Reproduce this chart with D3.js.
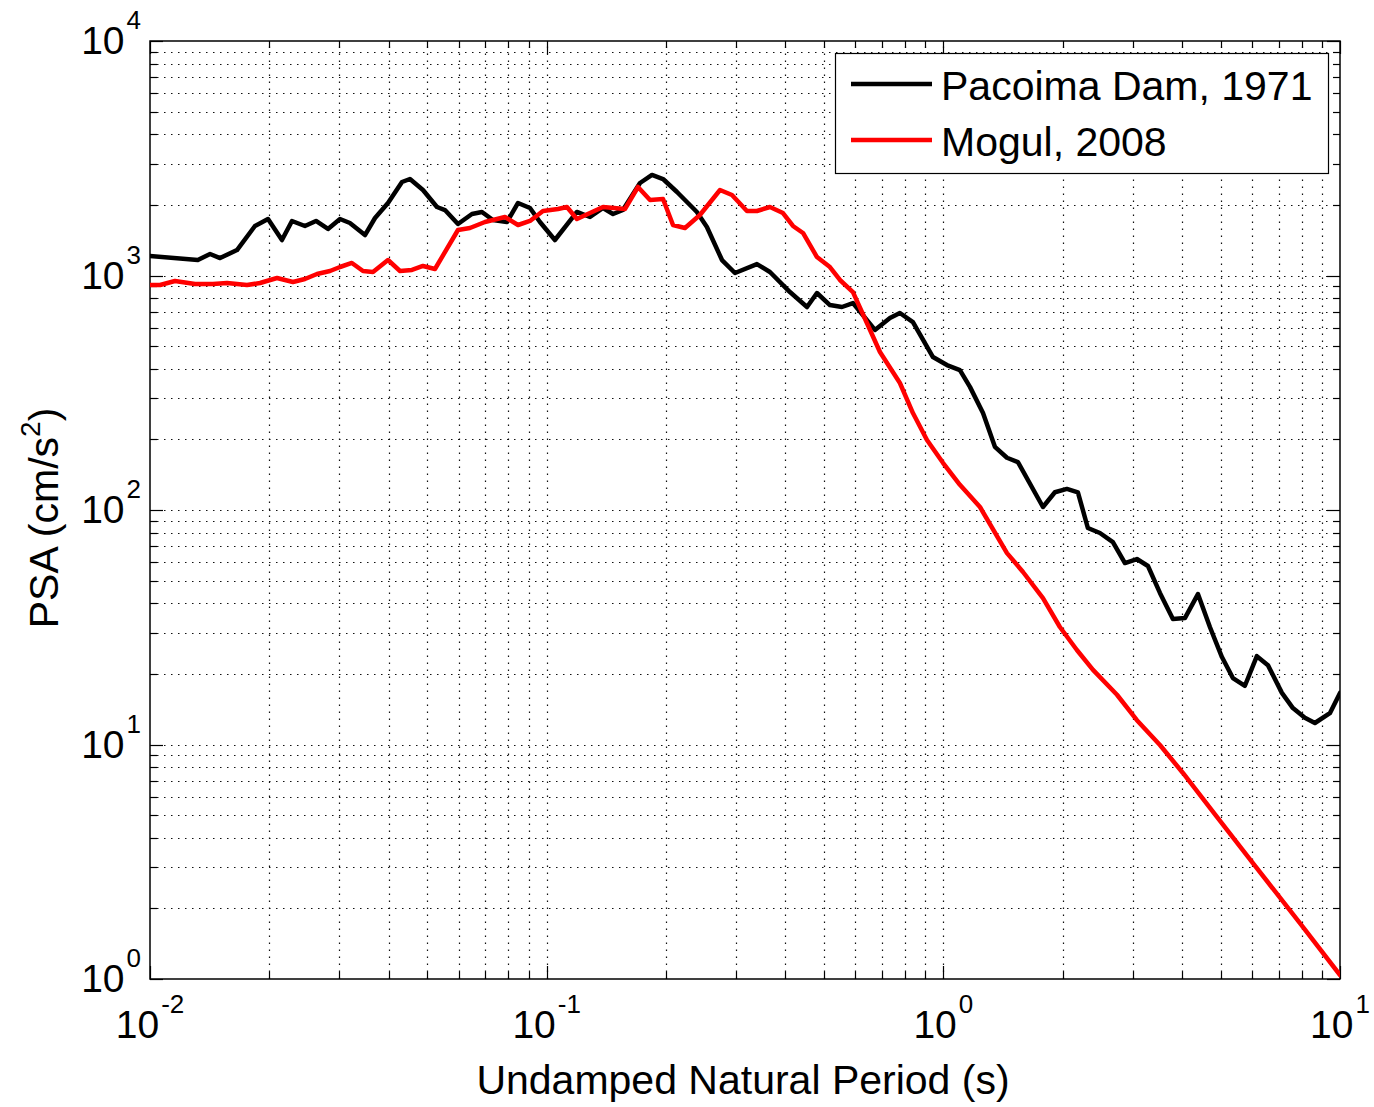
<!DOCTYPE html>
<html>
<head>
<meta charset="utf-8">
<script src="https://cdn.jsdelivr.net/npm/d3@7"></script>
<style>
  body { margin: 0; background: #fff; }
  svg text { font-family: "Liberation Sans", Arial, Helvetica, sans-serif; fill: #000; }
</style>
</head>
<body>
<div id="chart"></div>
<script>
//****data****
const pacoimaPeriod = [0.0100, 0.0132, 0.01417, 0.01502, 0.01657, 0.01839, 0.01984, 0.02151, 0.02280, 0.02458,
  0.02621, 0.02810, 0.03013, 0.03191, 0.03483, 0.03692, 0.03981, 0.04318, 0.04522, 0.04877,
  0.05290, 0.05541, 0.05976, 0.06481, 0.06868, 0.07320, 0.07942, 0.08468, 0.09077, 0.09618,
  0.1049, 0.1192, 0.1286, 0.1387, 0.1470, 0.1557, 0.1719, 0.1843, 0.1965, 0.2131,
  0.2392, 0.2535, 0.2767, 0.2984, 0.3389, 0.3655, 0.4105, 0.4532, 0.4802, 0.5177,
  0.5551, 0.5918, 0.6723, 0.7335, 0.7772, 0.8382, 0.9415, 1.021, 1.101, 1.167,
  1.259, 1.349, 1.447, 1.542, 1.783, 1.911, 2.049, 2.184, 2.314, 2.482,
  2.676, 2.870, 3.076, 3.280, 3.516, 3.791, 4.064, 4.384, 4.699, 5.039,
  5.370, 5.758, 6.172, 6.581, 7.137, 7.608, 8.155, 8.643, 9.430, 10.0];
const pacoimaPSA = [1211, 1164, 1235, 1187, 1284, 1626, 1741, 1417, 1708, 1626,
  1708, 1579, 1741, 1675, 1488, 1759, 2038, 2504, 2579, 2315,
  1959, 1902, 1658, 1829, 1866, 1725, 1691, 2038, 1940, 1691,
  1417, 1866, 1776, 1940, 1829, 1902, 2480, 2683, 2579, 2270,
  1866, 1610, 1164, 1025, 1119, 1035, 850, 734, 842, 748,
  734, 763, 586, 659, 692, 633, 449, 415, 395, 335,
  259, 186, 167, 160, 103, 119, 123, 119, 83.8, 79.8,
  73.0, 59.4, 61.8, 57.7, 44.3, 34.3, 34.6, 43.8, 31.7, 23.6,
  19.2, 17.8, 23.8, 21.8, 16.6, 14.3, 13.0, 12.35, 13.6, 16.6];

const mogulPeriod = [0.0100, 0.01060, 0.01156, 0.01299, 0.01441, 0.01564, 0.01756, 0.01894, 0.02090, 0.02293,
  0.02458, 0.02636, 0.02843, 0.03013, 0.03228, 0.03443, 0.03649, 0.03981, 0.04268, 0.04575,
  0.04877, 0.05229, 0.05976, 0.06406, 0.06989, 0.07850, 0.08468, 0.09077, 0.09788, 0.1068,
  0.1125, 0.1192, 0.1387, 0.1575, 0.1699, 0.1822, 0.1965, 0.2082, 0.2232, 0.2434,
  0.2735, 0.2932, 0.3198, 0.3389, 0.3655, 0.3942, 0.4178, 0.4428, 0.4802, 0.5177,
  0.5487, 0.5918, 0.6417, 0.6922, 0.7772, 0.8382, 0.9094, 0.9977, 1.101, 1.237,
  1.447, 1.588, 1.783, 1.967, 2.171, 2.384, 2.740, 3.076, 3.516, 4.018,
  4.895, 6.032, 7.925, 10.0];
const mogulPSA = [911, 911, 947, 920, 920, 929, 911, 929, 976, 938,
  966, 1015, 1045, 1087, 1131, 1045, 1035, 1164, 1045, 1056,
  1098, 1066, 1563, 1594, 1691, 1776, 1642, 1708, 1884, 1921,
  1959, 1741, 1959, 1921, 2385, 2099, 2120, 1642, 1594, 1811,
  2315, 2204, 1884, 1884, 1959, 1847, 1626, 1518, 1199, 1087,
  957, 850, 627, 472, 348, 259, 199, 159, 128, 103,
  65.5, 54.4, 42.1, 31.7, 25.3, 20.8, 16.3, 12.7, 9.95, 7.56,
  4.91, 3.12, 1.73, 1.04];

const seriesNames = ["Pacoima Dam, 1971", "Mogul, 2008"];
const seriesColors = ["#000000", "#ff0000"];
const xDomain = [0.01, 10];
const yDomain = [1, 10000];

//****layout****
const width = 1374;
const height = 1107;
const margin = {left: 150, right: 34, top: 41, bottom: 128};
const plotW = width - margin.left - margin.right;
const plotH = height - margin.top - margin.bottom;
const fontSize = 41;
const tickFont = 39;
const supSize = 26;

const svg = d3.select("#chart")
    .append("svg")
    .attr("width", width)
    .attr("height", height);

svg.append("rect")
    .attr("width", width)
    .attr("height", height)
    .attr("fill", "#fff");

const x = d3.scaleLog().domain(xDomain).range([margin.left, margin.left + plotW]);
const y = d3.scaleLog().domain(yDomain).range([margin.top + plotH, margin.top]);

const x0 = margin.left, x1 = margin.left + plotW;
const y0 = margin.top + plotH, y1 = margin.top;

const isMajor = v => Math.abs(Math.log10(v) - Math.round(Math.log10(v))) < 1e-9;
const xTicks = x.ticks();
const yTicks = y.ticks();

// dotted grid, minor and major
const grid = svg.append("g")
    .attr("stroke", "#111")
    .attr("stroke-width", 1.2)
    .attr("stroke-dasharray", "1.5,5.5")
    .attr("fill", "none");

grid.selectAll("line.gx")
    .data(xTicks.filter(v => v > xDomain[0] && v < xDomain[1]))
    .join("line")
    .attr("class", "gx")
    .attr("x1", d => Math.round(x(d)) + 0.5)
    .attr("x2", d => Math.round(x(d)) + 0.5)
    .attr("y1", y0)
    .attr("y2", y1);

grid.selectAll("line.gy")
    .data(yTicks.filter(v => v > yDomain[0] && v < yDomain[1]))
    .join("line")
    .attr("class", "gy")
    .attr("x1", x0)
    .attr("x2", x1)
    .attr("y1", d => Math.round(y(d)) + 0.5)
    .attr("y2", d => Math.round(y(d)) + 0.5);

// tick marks on all four sides, pointing inward
const ticks = svg.append("g").attr("stroke", "#000").attr("stroke-width", 1.2);
xTicks.forEach(v => {
    const len = isMajor(v) ? 13 : 7;
    const px = Math.round(x(v)) + 0.5;
    ticks.append("line").attr("x1", px).attr("x2", px).attr("y1", y0).attr("y2", y0 - len);
    ticks.append("line").attr("x1", px).attr("x2", px).attr("y1", y1).attr("y2", y1 + len);
});
yTicks.forEach(v => {
    const len = isMajor(v) ? 13 : 7;
    const py = Math.round(y(v)) + 0.5;
    ticks.append("line").attr("x1", x0).attr("x2", x0 + len).attr("y1", py).attr("y2", py);
    ticks.append("line").attr("x1", x1).attr("x2", x1 - len).attr("y1", py).attr("y2", py);
});

// box
svg.append("rect")
    .attr("x", x0)
    .attr("y", y1)
    .attr("width", plotW)
    .attr("height", plotH)
    .attr("fill", "none")
    .attr("stroke", "#000")
    .attr("stroke-width", 1.5);

// tick labels 10^n
function powLabel(sel, v) {
    const e = Math.round(Math.log10(v));
    sel.append("tspan").text("10");
    sel.append("tspan")
        .attr("font-size", supSize)
        .attr("dx", 2)
        .attr("dy", -25)
        .text(e < 0 ? "-" + (-e) : String(e));
}

xTicks.filter(isMajor).forEach(v => {
    const t = svg.append("text")
        .attr("x", x(v))
        .attr("y", 1038)
        .attr("text-anchor", "middle")
        .attr("font-size", tickFont);
    powLabel(t, v);
});

yTicks.filter(isMajor).forEach(v => {
    const t = svg.append("text")
        .attr("x", 141)
        .attr("y", y(v) + 13)
        .attr("text-anchor", "end")
        .attr("font-size", tickFont);
    powLabel(t, v);
});

// axis titles
svg.append("text")
    .attr("x", 743)
    .attr("y", 1094)
    .attr("text-anchor", "middle")
    .attr("font-size", fontSize)
    .text("Undamped Natural Period (s)");

const yTitle = svg.append("text")
    .attr("transform", "translate(58," + 518 + ") rotate(-90)")
    .attr("text-anchor", "middle")
    .attr("font-size", fontSize);
yTitle.append("tspan").text("PSA (cm/s");
yTitle.append("tspan").attr("font-size", supSize + 2).attr("dy", -18).text("2");
yTitle.append("tspan").attr("dy", 18).text(")");

// curves
const line = d3.line()
    .x(d => x(d[0]))
    .y(d => y(d[1]));

const seriesData = [
    d3.zip(pacoimaPeriod, pacoimaPSA),
    d3.zip(mogulPeriod, mogulPSA)
];

svg.append("defs").append("clipPath")
    .attr("id", "clip")
    .append("rect")
    .attr("x", x0).attr("y", y1).attr("width", plotW).attr("height", plotH);

svg.append("g")
    .attr("clip-path", "url(#clip)")
    .selectAll("path")
    .data(seriesData)
    .join("path")
    .attr("d", line)
    .attr("fill", "none")
    .attr("stroke", (d, i) => seriesColors[i])
    .attr("stroke-width", 4.5)
    .attr("stroke-linejoin", "round")
    .attr("stroke-linecap", "round");

// legend
const legend = svg.append("g");
legend.append("rect")
    .attr("x", 835.5)
    .attr("y", 53.5)
    .attr("width", 493)
    .attr("height", 120)
    .attr("fill", "#fff")
    .attr("stroke", "#000")
    .attr("stroke-width", 1.2);

seriesNames.forEach((name, i) => {
    const ly = 84 + i * 56;
    legend.append("line")
        .attr("x1", 851)
        .attr("x2", 932)
        .attr("y1", ly)
        .attr("y2", ly)
        .attr("stroke", seriesColors[i])
        .attr("stroke-width", 4.5);
    legend.append("text")
        .attr("x", 941)
        .attr("y", ly + 16)
        .attr("font-size", fontSize)
        .text(name);
});
</script>
</body>
</html>
